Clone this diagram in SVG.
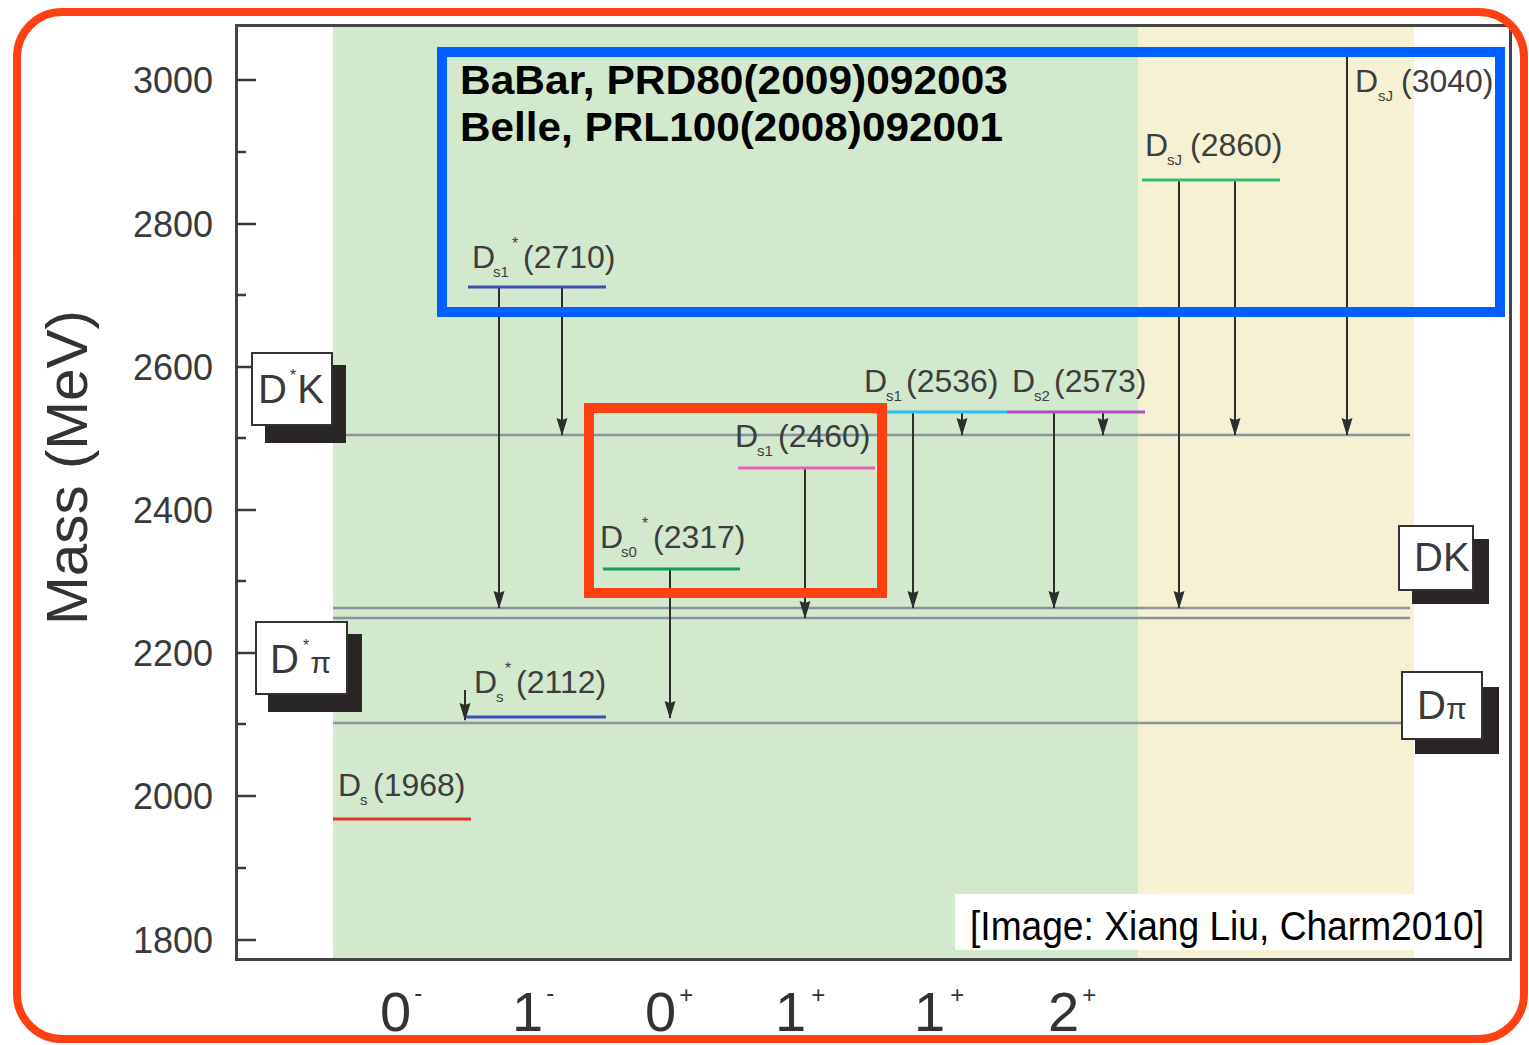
<svg xmlns="http://www.w3.org/2000/svg" width="1529" height="1045" viewBox="0 0 1529 1045">
<style>
text{font-family:"Liberation Sans",Arial,sans-serif;}
.tick{stroke:#3a3a3a;stroke-width:2.5;}
.ylab{font-size:36px;fill:#3a3a3a;text-anchor:end;}
.thr{stroke:#8a939b;stroke-width:2.5;fill:none;}
.lvl{stroke-width:3;fill:none;}
.arr{stroke:#2e2e2e;stroke-width:2;fill:none;marker-end:url(#ah);}
.lab{font-size:32px;fill:#3d3d3d;}
.sub{font-size:15px;}
.star{font-size:16px;}
.box{fill:#fff;stroke:#333;stroke-width:2;}
.shadow{fill:#2b2626;}
.btxt{font-size:40px;fill:#3a3a3a;}
.jp{font-size:56px;fill:#333;}
.jps{font-size:24px;}
.bold{font-size:41px;font-weight:bold;fill:#000;}
</style>
<defs>
<marker id="ah" viewBox="0 0 18 12" refX="17" refY="6" markerWidth="18" markerHeight="12" markerUnits="userSpaceOnUse" orient="auto">
<path d="M0,0.5 L18,6 L0,11.5 L2,6 z" fill="#2e2e2e"/>
</marker>
</defs>
<rect x="0" y="0" width="1529" height="1045" fill="#fff"/>
<!-- background bands -->
<rect x="333" y="26" width="805" height="933" fill="#d2e9cd"/>
<rect x="1138" y="26" width="276" height="933" fill="#f6f1d2"/>
<!-- frame and axes -->
<g id="frame">
<rect x="236.5" y="25.5" width="1274" height="934" fill="none" stroke="#444" stroke-width="3"/>
<line class="tick" x1="236" y1="80" x2="256" y2="80"/>
<line class="tick" x1="236" y1="224" x2="256" y2="224"/>
<line class="tick" x1="236" y1="367" x2="256" y2="367"/>
<line class="tick" x1="236" y1="510" x2="256" y2="510"/>
<line class="tick" x1="236" y1="653" x2="256" y2="653"/>
<line class="tick" x1="236" y1="796" x2="256" y2="796"/>
<line class="tick" x1="236" y1="940" x2="256" y2="940"/>
<line class="tick" x1="236" y1="152" x2="246" y2="152"/>
<line class="tick" x1="236" y1="295" x2="246" y2="295"/>
<line class="tick" x1="236" y1="438" x2="246" y2="438"/>
<line class="tick" x1="236" y1="581" x2="246" y2="581"/>
<line class="tick" x1="236" y1="724" x2="246" y2="724"/>
<line class="tick" x1="236" y1="868" x2="246" y2="868"/>
<text class="ylab" x="213" y="93">3000</text>
<text class="ylab" x="213" y="237">2800</text>
<text class="ylab" x="213" y="380">2600</text>
<text class="ylab" x="213" y="523">2400</text>
<text class="ylab" x="213" y="666">2200</text>
<text class="ylab" x="213" y="809">2000</text>
<text class="ylab" x="213" y="953">1800</text>
<text x="87" y="625" transform="rotate(-90 87 625)" font-size="57" fill="#333" textLength="315" lengthAdjust="spacingAndGlyphs">Mass (MeV)</text>
<text class="jp" x="380" y="1031">0<tspan class="jps" dx="3" dy="-30">-</tspan></text>
<text class="jp" x="512" y="1031">1<tspan class="jps" dx="3" dy="-30">-</tspan></text>
<text class="jp" x="645" y="1031">0<tspan class="jps" dx="3" dy="-28">+</tspan></text>
<text class="jp" x="775" y="1031">1<tspan class="jps" dx="5" dy="-28">+</tspan></text>
<text class="jp" x="914" y="1031">1<tspan class="jps" dx="5" dy="-28">+</tspan></text>
<text class="jp" x="1048" y="1031">2<tspan class="jps" dx="3" dy="-28">+</tspan></text>
</g>
<!-- thresholds -->
<g id="thr-DstarK">
<line class="thr" x1="346" y1="435" x2="1410" y2="435"/>
<rect class="shadow" x="265" y="365" width="81" height="78"/>
<rect class="box" x="252" y="353" width="80" height="72"/>
<text class="btxt" x="258" y="403">D<tspan class="star" dx="3" dy="-22">*</tspan><tspan dx="1" dy="22">K</tspan></text>
</g>
<g id="thr-DK">
<line class="thr" x1="333" y1="608" x2="1410" y2="608"/>
<line class="thr" x1="333" y1="618" x2="1410" y2="618"/>
<rect class="shadow" x="1412" y="539" width="77" height="65"/>
<rect class="box" x="1399" y="526" width="74" height="64"/>
<text class="btxt" x="1414" y="571">DK</text>
</g>
<g id="thr-Dpi">
<line class="thr" x1="333" y1="723" x2="1402" y2="723"/>
<rect class="shadow" x="1415" y="687" width="84" height="67"/>
<rect class="box" x="1402" y="672" width="80" height="67"/>
<text class="btxt" x="1417" y="719">D<tspan font-size="30">π</tspan></text>
</g>
<g id="thr-Dstarpi">
<rect class="shadow" x="268" y="634" width="94" height="78"/>
<rect class="box" x="256" y="622" width="91" height="72"/>
<text class="btxt" x="270" y="673">D<tspan class="star" dx="4" dy="-22">*</tspan><tspan font-size="30" dx="1" dy="22">π</tspan></text>
</g>
<!-- connectors -->
<g id="connectors">
<line class="arr" x1="499" y1="287" x2="499" y2="608"/>
<line class="arr" x1="562" y1="287" x2="562" y2="435"/>
<line class="arr" x1="465" y1="690" x2="465" y2="720"/>
<line class="arr" x1="670" y1="569" x2="670" y2="718"/>
<line class="arr" x1="805" y1="468" x2="805" y2="618"/>
<line class="arr" x1="913" y1="412" x2="913" y2="608"/>
<line class="arr" x1="962" y1="412" x2="962" y2="435"/>
<line class="arr" x1="1054" y1="412" x2="1054" y2="608"/>
<line class="arr" x1="1103" y1="412" x2="1103" y2="435"/>
<line class="arr" x1="1179" y1="180" x2="1179" y2="608"/>
<line class="arr" x1="1235" y1="180" x2="1235" y2="435"/>
<line class="arr" x1="1347" y1="52" x2="1347" y2="435"/>
</g>
<!-- levels -->
<g id="Ds1968">
<line class="lvl" x1="333" y1="819" x2="471" y2="819" stroke="#e8332a"/>
<text class="lab" y="796"><tspan x="338">D</tspan><tspan class="sub" x="360" dy="9">s</tspan><tspan x="373" dy="-9">(1968)</tspan></text>
</g>
<g id="Dsstar2112">
<line class="lvl" x1="466" y1="717" x2="606" y2="717" stroke="#3a4fb0"/>
<text class="lab" y="693"><tspan x="474">D</tspan><tspan class="sub" x="496" dy="9">s</tspan><tspan class="star" x="505" dy="-28">*</tspan><tspan x="516" dy="19">(2112)</tspan></text>
</g>
<g id="Ds1star2710">
<line class="lvl" x1="468" y1="287" x2="606" y2="287" stroke="#3a4fb0"/>
<text class="lab" y="268"><tspan x="472">D</tspan><tspan class="sub" x="493" dy="9">s1</tspan><tspan class="star" x="512" dy="-28">*</tspan><tspan x="523" dy="19">(2710)</tspan></text>
</g>
<g id="Ds0star2317">
<line class="lvl" x1="603" y1="569" x2="740" y2="569" stroke="#10a050"/>
<text class="lab" y="548"><tspan x="600">D</tspan><tspan class="sub" x="621" dy="9">s0</tspan><tspan class="star" x="642" dy="-28">*</tspan><tspan x="653" dy="19">(2317)</tspan></text>
</g>
<g id="Ds1_2460">
<line class="lvl" x1="738" y1="468" x2="875" y2="468" stroke="#e860b0"/>
<text class="lab" y="447"><tspan x="735">D</tspan><tspan class="sub" x="757" dy="9">s1</tspan><tspan x="778" dy="-9">(2460)</tspan></text>
</g>
<g id="Ds1_2536">
<line class="lvl" x1="872" y1="412" x2="1007" y2="412" stroke="#22c0ee"/>
<text class="lab" y="392"><tspan x="864">D</tspan><tspan class="sub" x="886" dy="9">s1</tspan><tspan x="906" dy="-9">(2536)</tspan></text>
</g>
<g id="Ds2_2573">
<line class="lvl" x1="1007" y1="412" x2="1145" y2="412" stroke="#b050c0"/>
<text class="lab" y="392"><tspan x="1012">D</tspan><tspan class="sub" x="1034" dy="9">s2</tspan><tspan x="1054" dy="-9">(2573)</tspan></text>
</g>
<g id="DsJ2860">
<line class="lvl" x1="1142" y1="180" x2="1280" y2="180" stroke="#30c070"/>
<text class="lab" y="156"><tspan x="1145">D</tspan><tspan class="sub" x="1167" dy="9">sJ</tspan><tspan x="1190" dy="-9">(2860)</tspan></text>
</g>
<g id="DsJ3040">
<text class="lab" y="92"><tspan x="1355">D</tspan><tspan class="sub" x="1378" dy="9">sJ</tspan><tspan x="1401" dy="-9">(3040)</tspan></text>
</g>
<!-- highlight boxes -->
<g id="highlight-blue">
<rect x="442" y="52" width="1058" height="260" fill="none" stroke="#0060ff" stroke-width="10"/>
<text class="bold" x="460" y="94" textLength="548" lengthAdjust="spacingAndGlyphs">BaBar, PRD80(2009)092003</text>
<text class="bold" x="460" y="141" textLength="543" lengthAdjust="spacingAndGlyphs">Belle, PRL100(2008)092001</text>
</g>
<g id="highlight-red">
<rect x="589" y="408" width="293" height="185" fill="none" stroke="#ff4013" stroke-width="10"/>
</g>
<g id="caption">
<rect x="955" y="894" width="553" height="56" fill="#fff"/>
<text x="970" y="940" font-size="40" fill="#000" textLength="514" lengthAdjust="spacingAndGlyphs">[Image: Xiang Liu, Charm2010]</text>
</g>
<rect x="17" y="12" width="1507" height="1027" rx="45" ry="45" fill="none" stroke="#ff4013" stroke-width="8"/>
</svg>
